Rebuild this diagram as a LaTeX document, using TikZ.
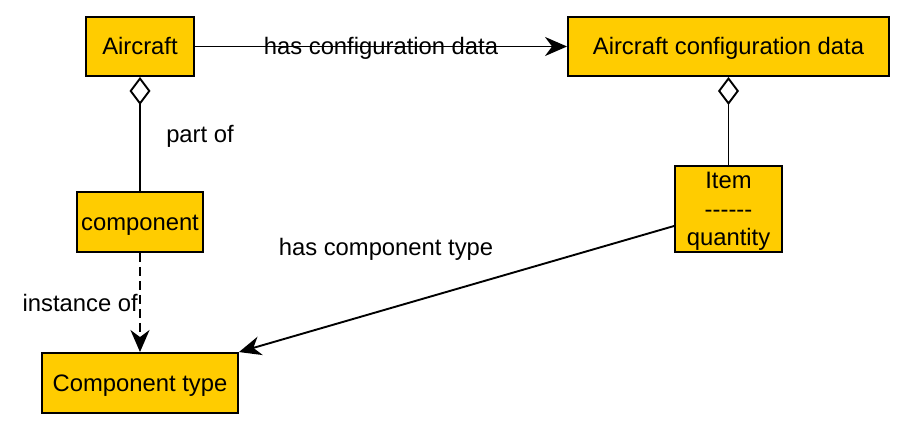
\documentclass[tikz,border=0pt]{standalone}
\usepackage{fontspec}
\setmainfont{Liberation Sans}
\usetikzlibrary{arrows.meta,calc}
\definecolor{boxfill}{HTML}{FFCC00}
\tikzset{
  box/.style={draw=black, fill=boxfill, line width=1.9pt, inner sep=0pt, rectangle, align=center},
  onebox/.style={box, text height=17pt, text depth=0pt},
  conn/.style={line width=1.9pt, draw=black},
  tip/.style={-{Stealth[length=22pt,width=19pt,inset=7pt]}},
  agg/.style={{Diamond[open,length=28pt,width=21pt,line width=1.9pt]}-},
  lbl/.style={inner sep=0pt, anchor=base},
}
\begin{document}
\begin{tikzpicture}[x=1pt,y=-1pt,font=\fontsize{23.8}{28.5}\selectfont]
\useasboundingbox (0,0) rectangle (904,430);
\node[onebox, minimum width=108pt, minimum height=59pt] (aircraft) at (140,46.5) {Aircraft};
\node[onebox, minimum width=321pt, minimum height=59pt] (acd) at (728.5,46.5) {Aircraft configuration data};
\node[onebox, minimum width=126pt, minimum height=60pt] (component) at (140,222) {component};
\node[onebox, minimum width=196pt, minimum height=60pt] (ctype) at (140,383) {Component type};
\node[box, minimum width=107pt, minimum height=86pt] (item) at (728.5,209) {\raisebox{-8.75pt}[0pt][0pt]{\begin{tabular}{@{}c@{}}Item\\{-}{-}{-}{-}{-}{-}\\quantity\end{tabular}}};

\draw[conn, tip] (aircraft.east) -- (acd.west);
\node[lbl] (l1) at (381,55) {has configuration data};

\draw[conn, agg] (aircraft.south) -- (component.north);
\node[lbl] (l2) at (200,143) {part of};

\draw[conn, agg] (acd.south) -- (item.north);

\draw[conn, tip, dash pattern=on 9pt off 5pt] (component.south) -- (ctype.north);
\node[lbl, anchor=base east] (l3) at (138,311) {instance of};

\coordinate (itemout) at ($(item.west)+(0,17)$);
\draw[conn, tip] (itemout) -- (ctype.north east);
\node[lbl] (l4) at (386,255) {has component type};
\end{tikzpicture}
\end{document}
